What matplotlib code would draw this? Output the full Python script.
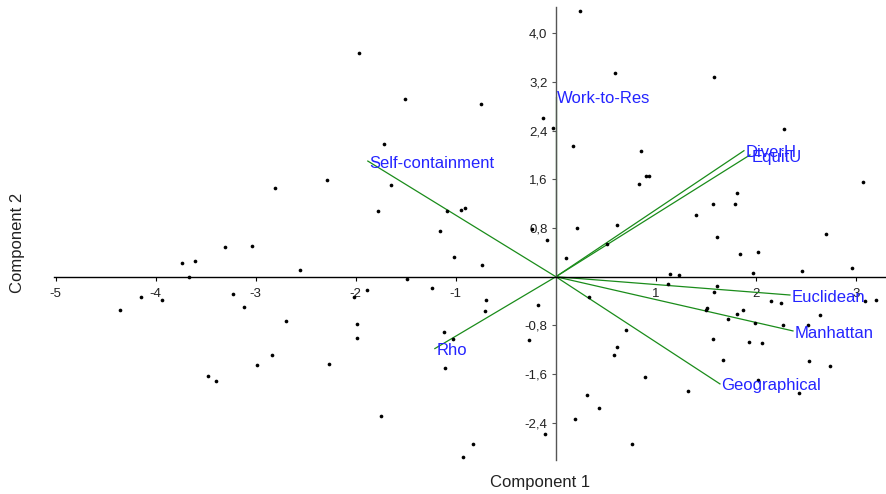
import matplotlib
matplotlib.use("Agg")
import matplotlib.pyplot as plt
from matplotlib.ticker import FuncFormatter

plt.rcParams['font.family'] = ['Liberation Sans', 'DejaVu Sans']
plt.rcParams['axes.unicode_minus'] = False

# --- component scores ---
pc1 = [-2.81, -3.31, -3.04, -1.97, -1.51, -0.75, -1.72, -2.29, -1.65, -1.78,
       -1.09, -0.95, -0.91, -1.16, -0.13, -0.03, -0.24, -0.09, 0.24, 0.59,
       1.58, 2.28, 0.17, 0.85, 0.90, 0.93, 0.83, 1.81, 1.57, 1.79,
       3.07, 1.40, 0.21, 0.61, 1.61, 2.70, 0.51, -3.74, -3.61, -3.67,
       -4.15, -3.94, -4.36, -3.23, -3.12, -2.70, -2.84, -2.99, -3.48, -3.40,
       -2.56, -1.02, -0.74, -1.49, -1.24, -1.89, -2.02, -1.99, -1.99, -2.27,
       -0.70, -0.71, -0.18, -0.27, -1.12, -1.03, -1.11, -1.75, -0.83, -0.93,
       -0.11, 0.10, 1.84, 2.02, 1.14, 1.23, 1.97, 2.46, 2.96, 1.12,
       1.61, 1.58, 2.15, 2.25, 3.09, 3.20, 0.33, 1.51, 1.50, 1.87,
       1.81, 1.72, 1.99, 2.27, 2.52, 2.64, 1.57, 1.93, 2.06, 0.70,
       0.61, 0.58, 1.67, 2.53, 2.74, 0.89, 2.02, 1.32, 2.43, 0.31,
       0.43, 0.19, 0.76]
pc2 = [1.46, 0.49, 0.50, 3.67, 2.92, 2.84, 2.18, 1.59, 1.50, 1.08,
       1.08, 1.10, 1.13, 0.75, 2.60, 2.44, 0.78, 0.60, 4.36, 3.34,
       3.28, 2.43, 2.15, 2.07, 1.66, 1.66, 1.52, 1.38, 1.20, 1.20,
       1.55, 1.02, 0.80, 0.85, 0.66, 0.70, 0.54, 0.23, 0.26, 0.00,
       -0.34, -0.39, -0.55, -0.29, -0.49, -0.73, -1.29, -1.45, -1.63, -1.71,
       0.11, 0.33, 0.20, -0.04, -0.19, -0.21, -0.34, -0.77, -1.01, -1.43,
       -0.38, -0.56, -0.47, -1.04, -0.90, -1.02, -1.50, -2.29, -2.75, -2.96,
       -2.59, 0.31, 0.38, 0.41, 0.04, 0.03, 0.06, 0.10, 0.14, -0.12,
       -0.16, -0.25, -0.40, -0.43, -0.40, -0.38, -0.33, -0.51, -0.54, -0.55,
       -0.61, -0.70, -0.76, -0.80, -0.80, -0.63, -1.03, -1.07, -1.09, -0.88,
       -1.15, -1.28, -1.37, -1.39, -1.46, -1.64, -1.69, -1.87, -1.91, -1.94,
       -2.15, -2.34, -2.75]

# --- variable loadings (scaled) ---
variables = ['Work-to-Res', 'Self-containment', 'DiverH', 'EquitU',
             'Euclidean', 'Manhattan', 'Geographical', 'Rho']
load1 = [0.0, -1.88, 1.88, 1.94, 2.34, 2.37, 1.64, -1.21]
load2 = [2.96, 1.90, 2.07, 2.00, -0.30, -0.89, -1.76, -1.18]

xticks = [-5, -4, -3, -2, -1, 1, 2, 3]
yticks = [-2.4, -1.6, -0.8, 0.8, 1.6, 2.4, 3.2, 4.0]

fig = plt.figure(figsize=(8.86, 4.94), dpi=100)
ax = fig.add_axes([0.0606, 0.0688, 0.9394, 0.917])

ax.scatter(pc1, pc2, s=7, color='black', linewidths=0, zorder=3)

for name, lx, ly in zip(variables, load1, load2):
    ax.plot([0, lx], [0, ly], color='#1a8c1a', linewidth=0.9, zorder=2)
    ax.annotate(name, (lx, ly), xytext=(1, -1.5), textcoords='offset points',
                ha='left', va='center', fontsize=12, color='#2424ff', zorder=4)

ax.set_xlim(-5.02, 3.30)
ax.set_ylim(-3.01, 4.43)

# axes crossing at the origin
for side in ('top', 'right'):
    ax.spines[side].set_visible(False)
ax.spines['left'].set_position(('data', 0))
ax.spines['bottom'].set_position(('data', 0))
ax.spines['left'].set_color('#555555')
ax.spines['left'].set_linewidth(1.0)
ax.spines['bottom'].set_color('black')
ax.spines['bottom'].set_linewidth(1.0)

ax.set_xticks(xticks)
ax.set_yticks(yticks)
ax.xaxis.set_major_formatter(FuncFormatter(lambda v, p: f"{v:.0f}"))
ax.yaxis.set_major_formatter(FuncFormatter(lambda v, p: f"{v:.1f}".replace('.', ',')))
ax.tick_params(axis='x', direction='out', length=3, width=0.8, pad=5,
               labelsize=9.5, labelcolor='#222222')
ax.tick_params(axis='y', direction='out', length=3, width=0.8, pad=3,
               labelsize=9.5, labelcolor='#222222', color='#555555')

fig.text(540 / 886, 1 - 482 / 494, 'Component 1', ha='center', va='center',
         fontsize=12, color='#222222')
fig.text(18 / 886, 1 - 243 / 494, 'Component 2', ha='center', va='center',
         rotation=90, fontsize=12, color='#222222')

fig.savefig('out.png', dpi=100)
